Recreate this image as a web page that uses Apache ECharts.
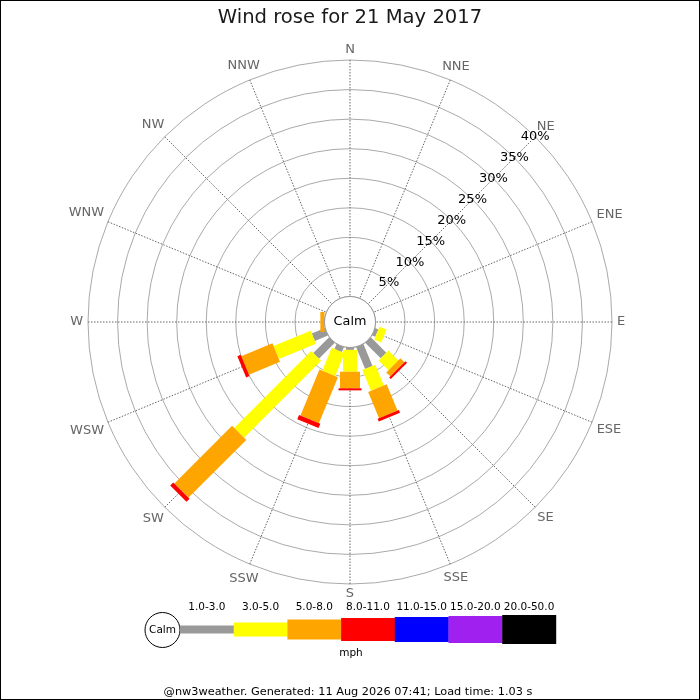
<!DOCTYPE html>
<html>
<head>
<meta charset="utf-8">
<script src="https://cdn.jsdelivr.net/npm/echarts@6/dist/echarts.min.js"></script>
<style>
html,body{margin:0;padding:0;background:#fff;}
#chart{width:700px;height:700px;}
</style>
</head>
<body>
<div id="chart"></div>
<script>
// ---- data ----
const titleText = 'Wind rose for 21 May 2017';
const directions = ['N','NNE','NE','ENE','E','ESE','SE','SSE','S','SSW','SW','WSW','W','WNW','NW','NNW'];
const bands = ['1.0-3.0','3.0-5.0','5.0-8.0','8.0-11.0','11.0-15.0','15.0-20.0','20.0-50.0'];
const bandColors = ['#999999','#ffff00','#ffa500','#ff0000','#0000ff','#a020f0','#000000'];
// percentage of time per direction, for each speed band (mph)
const band1 = [0,0,0,0,0,0.6,3.7,4.0,0.4,0.9,3.8,2.4,0,0,0,0];
const band2 = [0,0,0,0,0,1.3,2.35,3.8,3.7,4.2,18.4,6.8,0,0,0,0];
const band3 = [0,0,0,0,0,0,0.95,4.8,2.8,8.4,13.8,5.7,0.7,0,0,0];
const band4 = [0,0,0,0,0,0,0.4,0.5,0.35,0.8,0.75,0.6,0,0,0,0];
const band5 = [0,0,0,0,0,0,0,0,0,0,0,0,0,0,0,0];
const band6 = [0,0,0,0,0,0,0,0,0,0,0,0,0,0,0,0];
const band7 = [0,0,0,0,0,0,0,0,0,0,0,0,0,0,0,0];
const radiusMax = 40;
const radiusStep = 5;
const unitLabel = 'mph';
const calmLabel = 'Calm';
const footerText = '@nw3weather. Generated: 11 Aug 2026 07:41; Load time: 1.03 s';

// ---- styles / layout ----
const FONT = 'DejaVu Sans';
const CX = 350, CY = 322, R_IN = 25.5, R_OUT = 262;
const BAR_W = [8, 14, 20, 23, 25, 27, 29];
const DIR_FONT = 13, DIR_GAP = 5, DIR_HALF_H = 5;
const bandValues = [band1, band2, band3, band4, band5, band6, band7];
const step = 360 / directions.length;

const measureCtx = document.createElement('canvas').getContext('2d');
measureCtx.font = DIR_FONT + 'px "' + FONT + '"';

function bandSeries(b) {
  const data = [];
  directions.forEach((d, i) => {
    let start = 0;
    for (let k = 0; k < b; k++) start += bandValues[k][i];
    const v = bandValues[b][i];
    if (v > 0) data.push([i * step, start, start + v]);
  });
  const w = BAR_W[b];
  return {
    type: 'custom',
    name: bands[b],
    coordinateSystem: 'polar',
    polarIndex: 0,
    encode: { angle: 0, radius: 2 },
    data: data,
    z: 5,
    renderItem: function (params, api) {
      const ang = api.value(0);
      const a = api.coord([api.value(1), ang]);
      const c = api.coord([api.value(2), ang]);
      const o = api.coord([0, ang]);
      const f = api.coord([radiusMax, ang]);
      let ux = f[0] - o[0], uy = f[1] - o[1];
      const L = Math.hypot(ux, uy); ux /= L; uy /= L;
      const nx = -uy * w / 2, ny = ux * w / 2;
      return {
        type: 'polygon',
        shape: { points: [[a[0] + nx, a[1] + ny], [c[0] + nx, c[1] + ny], [c[0] - nx, c[1] - ny], [a[0] - nx, a[1] - ny]] },
        style: { fill: bandColors[b], stroke: null }
      };
    }
  };
}

// direction labels placed just outside the outer ring
const dirLabelSeries = {
  type: 'custom',
  coordinateSystem: 'polar',
  polarIndex: 0,
  encode: { angle: 0, radius: 1 },
  data: directions.map((d, i) => [i * step, radiusMax]),
  silent: true,
  z: 6,
  renderItem: function (params, api) {
    const ang = api.value(0);
    const name = directions[params.dataIndex];
    const o = api.coord([0, ang]);
    const f = api.coord([api.value(1), ang]);
    let ux = f[0] - o[0], uy = f[1] - o[1];
    const L = Math.hypot(ux, uy); ux /= L; uy /= L;
    const hw = measureCtx.measureText(name).width / 2;
    const ext = DIR_GAP + hw * Math.abs(ux) + DIR_HALF_H * Math.abs(uy);
    return {
      type: 'text',
      x: f[0] + ux * ext,
      y: f[1] + uy * ext,
      style: { text: name, fontFamily: FONT, fontSize: DIR_FONT, fill: '#666666', align: 'center', verticalAlign: 'middle' }
    };
  }
};

// legend graphics
const legendEls = [];
const LG_X0 = 180, LG_W = 53.7, LG_Y = 629.5, LG_CALM_R = 17.5;
legendEls.push({ type: 'circle', shape: { cx: LG_X0 - LG_CALM_R, cy: LG_Y + 0.5, r: LG_CALM_R }, style: { fill: '#fff', stroke: '#000', lineWidth: 1 }, z: 10 });
legendEls.push({ type: 'text', x: LG_X0 - LG_CALM_R, y: LG_Y + 0.5, style: { text: calmLabel, fontFamily: FONT, fontSize: 10.5, fill: '#000', align: 'center', verticalAlign: 'middle' }, z: 11 });
bands.forEach((name, i) => {
  const x = LG_X0 + i * LG_W;
  legendEls.push({ type: 'rect', shape: { x: x, y: LG_Y - BAR_W[i] / 2, width: LG_W + 0.3, height: BAR_W[i] }, style: { fill: bandColors[i] }, z: 10 });
  legendEls.push({ type: 'text', x: x + LG_W / 2, y: 607, style: { text: name, fontFamily: FONT, fontSize: 10.5, fill: '#000', align: 'center', verticalAlign: 'middle' }, z: 11 });
});
legendEls.push({ type: 'text', x: 351, y: 653, style: { text: unitLabel, fontFamily: FONT, fontSize: 10.5, fill: '#000', align: 'center', verticalAlign: 'middle' }, z: 11 });
legendEls.push({ type: 'text', x: 348, y: 692.5, style: { text: footerText, fontFamily: FONT, fontSize: 11.3, fill: '#000', align: 'center', verticalAlign: 'middle' }, z: 11 });

const chart = echarts.init(document.getElementById('chart'), null, { renderer: 'canvas' });
chart.setOption({
  animation: false,
  backgroundColor: '#fff',
  textStyle: { fontFamily: FONT },
  title: {
    text: titleText, left: 'center', top: 8, padding: 0,
    textStyle: { fontFamily: FONT, fontSize: 19.6, fontWeight: 'normal', color: '#1a1a1a' }
  },
  polar: [
    { center: [CX, CY], radius: [R_IN, R_OUT] },
    { center: [CX, CY], radius: [R_IN, R_OUT] }
  ],
  angleAxis: [
    {
      polarIndex: 0, type: 'value', min: 0, max: 360, interval: step,
      startAngle: 90, clockwise: true,
      axisLine: { show: false },
      axisTick: { show: false },
      axisLabel: { show: false },
      splitLine: { show: true, lineStyle: { color: '#666666', type: [1.5, 1.5], width: 1 } }
    },
    { polarIndex: 1, type: 'value', min: 0, max: 360, startAngle: 45, show: false }
  ],
  radiusAxis: [
    {
      polarIndex: 0, type: 'value', min: 0, max: radiusMax, interval: radiusStep,
      axisLine: { show: false }, axisTick: { show: false }, axisLabel: { show: false },
      splitLine: { show: true, lineStyle: { color: '#aaaaaa', width: 1 } }
    },
    {
      polarIndex: 1, type: 'value', min: 0, max: radiusMax, interval: radiusStep, z: 20,
      axisLine: { show: false }, axisTick: { show: false }, splitLine: { show: false },
      axisLabel: {
        formatter: v => (v === 0 ? '' : v + '%'),
        color: '#000', fontSize: 13, margin: 0, align: 'center', verticalAlign: 'middle', fontFamily: FONT
      }
    }
  ],
  series: bands.map((b, i) => bandSeries(i)).concat([dirLabelSeries]),
  graphic: [
    { type: 'circle', shape: { cx: CX, cy: CY, r: R_IN }, style: { fill: '#fff', stroke: '#999', lineWidth: 1 }, z: 50 },
    { type: 'text', x: CX, y: CY, style: { text: calmLabel, fontFamily: FONT, fontSize: 12.8, fill: '#000', align: 'center', verticalAlign: 'middle' }, z: 51 },
    ...legendEls,
    { type: 'rect', shape: { x: 0, y: 0, width: 700, height: 700 }, style: { fill: null, stroke: '#000', lineWidth: 2 }, z: 60 }
  ]
});
</script>
</body>
</html>
